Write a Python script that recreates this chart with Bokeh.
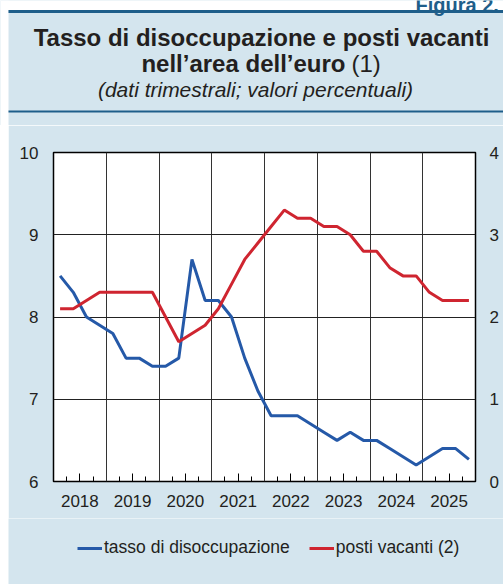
from bokeh.plotting import figure
from bokeh.models import (FixedTicker, LinearAxis, Range1d, Legend, LegendItem,
                          ColumnDataSource)
from bokeh.core.properties import value
from bokeh.embed import file_html
from bokeh.resources import INLINE

# ---------------- data ----------------
years = [2018, 2019, 2020, 2021, 2022, 2023, 2024, 2025]
quarter_labels = [f"{y}Q{q}" for y in years for q in (1, 2, 3, 4)]
unemployment = [8.5, 8.3, 8.0, 7.9, 7.8, 7.5, 7.5, 7.4,
                7.4, 7.5, 8.7, 8.2, 8.2, 8.0, 7.5, 7.1,
                6.8, 6.8, 6.8, 6.7, 6.6, 6.5, 6.6, 6.5,
                6.5, 6.4, 6.3, 6.2, 6.3, 6.4, 6.4, 6.27]
vacancies = [2.1, 2.1, 2.2, 2.3, 2.3, 2.3, 2.3, 2.3,
             2.0, 1.7, 1.8, 1.9, 2.1, 2.4, 2.7, 2.9,
             3.1, 3.3, 3.2, 3.2, 3.1, 3.1, 3.0, 2.8,
             2.8, 2.6, 2.5, 2.5, 2.3, 2.2, 2.2, 2.2]
left_ticks = [6, 7, 8, 9, 10]
right_ticks = [0, 1, 2, 3, 4]
series_names = ["tasso di disoccupazione", "posti vacanti (2)"]
figure_tag = "Figura 2."
title_line1 = "Tasso di disoccupazione e posti vacanti"
title_line2_bold = "nell\u2019area dell\u2019euro"
title_line2_note = "(1)"
subtitle = "(dati trimestrali; valori percentuali)"

# quarter -> position in fractional years (middle of the quarter)
xpos = [int(s[:4]) + (int(s[-1]) - 0.5) / 4 for s in quarter_labels]
src = ColumnDataSource(dict(x=xpos, u=unemployment, v=vacancies))

FONT = "Liberation Sans"
TXT = "#231f20"
BG = "#d4e5ee"
DARK = "#1e5e8a"
BLUE = "#2559a8"
RED = "#cf2530"

PAGE_W = 503
PAGE_H = 584
HEAD_H = 125
CHART_H = 393
FOOT_H = PAGE_H - HEAD_H - CHART_H

# ---------------- header (title block) ----------------
h = figure(width=PAGE_W, height=HEAD_H, x_range=Range1d(0, PAGE_W), y_range=Range1d(HEAD_H, 0),
           output_backend="svg", toolbar_location=None,
           x_axis_type=None, y_axis_type=None,
           min_border=0, min_border_left=0, min_border_right=0,
           min_border_top=0, min_border_bottom=0)
h.grid.visible = False
h.outline_line_color = None
h.background_fill_color = BG
h.border_fill_color = BG

h.quad(left=[0], right=[8], top=[0], bottom=[HEAD_H], fill_color="white", line_color=None)
h.quad(left=[0], right=[PAGE_W], top=[0], bottom=[9.5], fill_color="white", line_color=None)
h.quad(left=[8], right=[PAGE_W], top=[9.5], bottom=[12.5], fill_color=DARK, line_color=None)
h.quad(left=[8], right=[PAGE_W], top=[110], bottom=[112], fill_color=DARK, line_color=None)

def htext(txt, x, y, size, style="normal", align="center", color=TXT):
    h.text(x=[x], y=[y], text=[txt], text_align=align, text_baseline="alphabetic",
           text_font=value(FONT), text_font_size=value(size),
           text_font_style=value(style), text_color=color)

htext(figure_tag, 415, 4, "20px", "bold", "left", DARK)
htext(title_line1, 261, 37, "24px", "bold")
htext(title_line2_bold, 345, 63, "24px", "bold", "right")
htext(title_line2_note, 351, 63, "24px", "normal", "left")
htext(subtitle, 255, 89, "21px", "italic")

# ---------------- chart ----------------
p = figure(width=PAGE_W - 8, height=CHART_H, frame_width=422, frame_height=329,
           x_range=Range1d(2018, 2026), y_range=Range1d(6, 10),
           output_backend="svg", toolbar_location=None,
           min_border_left=45, min_border_right=28, min_border_top=27, min_border_bottom=37)
p.styles = {"margin-left": "8px"}
p.border_fill_color = BG
p.background_fill_color = "white"
p.outline_line_color = "black"
p.outline_line_width = 1.5

p.extra_y_ranges = {"right": Range1d(0, 4)}

xa = p.xaxis[0]
xa.ticker = FixedTicker(ticks=[y + 0.5 for y in years],
                        minor_ticks=[y + f for y in years for f in (0.25, 0.75)])
xa.major_label_overrides = {y + 0.5: str(y) for y in years}
xa.major_tick_in = 8
xa.major_tick_out = 0
xa.minor_tick_in = 5
xa.minor_tick_out = 0
xa.axis_line_color = None
xa.major_tick_line_color = "black"
xa.minor_tick_line_color = "black"
xa.major_label_standoff = 13

ya = p.yaxis[0]
ya.ticker = FixedTicker(ticks=left_ticks)
ya.major_tick_in = 0
ya.major_tick_out = 0
ya.minor_tick_line_color = None
ya.axis_line_color = None
ya.major_label_standoff = 15

ra = LinearAxis(y_range_name="right", ticker=FixedTicker(ticks=right_ticks))
ra.major_tick_in = 0
ra.major_tick_out = 0
ra.minor_tick_line_color = None
ra.axis_line_color = None
ra.major_label_standoff = 14
p.add_layout(ra, "right")

for ax in (xa, ya, ra):
    ax.major_label_text_font = FONT
    ax.major_label_text_font_size = "17px"
    ax.major_label_text_color = TXT

p.xgrid.ticker = FixedTicker(ticks=years[1:])
p.xgrid.grid_line_color = "#333333"
p.xgrid.grid_line_width = 1
p.ygrid.ticker = FixedTicker(ticks=left_ticks[1:-1])
p.ygrid.grid_line_color = "#222222"
p.ygrid.grid_line_width = 1

p.line("x", "u", source=src, line_color=BLUE, line_width=3)
p.line("x", "v", source=src, line_color=RED, line_width=3, y_range_name="right")

# ---------------- footer with the legend ----------------
f = figure(width=PAGE_W - 8, height=FOOT_H, x_range=Range1d(2018, 2026), y_range=Range1d(6, 10),
           output_backend="svg", toolbar_location=None,
           x_axis_type=None, y_axis_type=None,
           min_border=0, min_border_left=0, min_border_right=0,
           min_border_top=0, min_border_bottom=0)
f.styles = {"margin-left": "8px"}
f.grid.visible = False
f.outline_line_color = None
f.background_fill_color = BG
f.border_fill_color = BG
f.extra_y_ranges = {"right": Range1d(0, 4)}
# legend keys (the series themselves are drawn in the chart above)
k1 = f.line("x", "u", source=src, line_color=BLUE, line_width=3, visible=False)
k2 = f.line("x", "v", source=src, line_color=RED, line_width=3, visible=False,
            y_range_name="right")

legend = Legend(items=[LegendItem(label=series_names[0], renderers=[k1]),
                       LegendItem(label=series_names[1], renderers=[k2])],
                location=(69, 26), orientation="horizontal",
                padding=0, margin=0, spacing=19, label_standoff=2,
                glyph_width=25, glyph_height=16, label_height=16,
                label_text_font=FONT, label_text_font_size="17.5px", label_text_color=TXT,
                inactive_fill_alpha=0,
                background_fill_alpha=0, border_line_color=None)
f.add_layout(legend)

open("out.html", "w").write(file_html([h, p, f], INLINE))
